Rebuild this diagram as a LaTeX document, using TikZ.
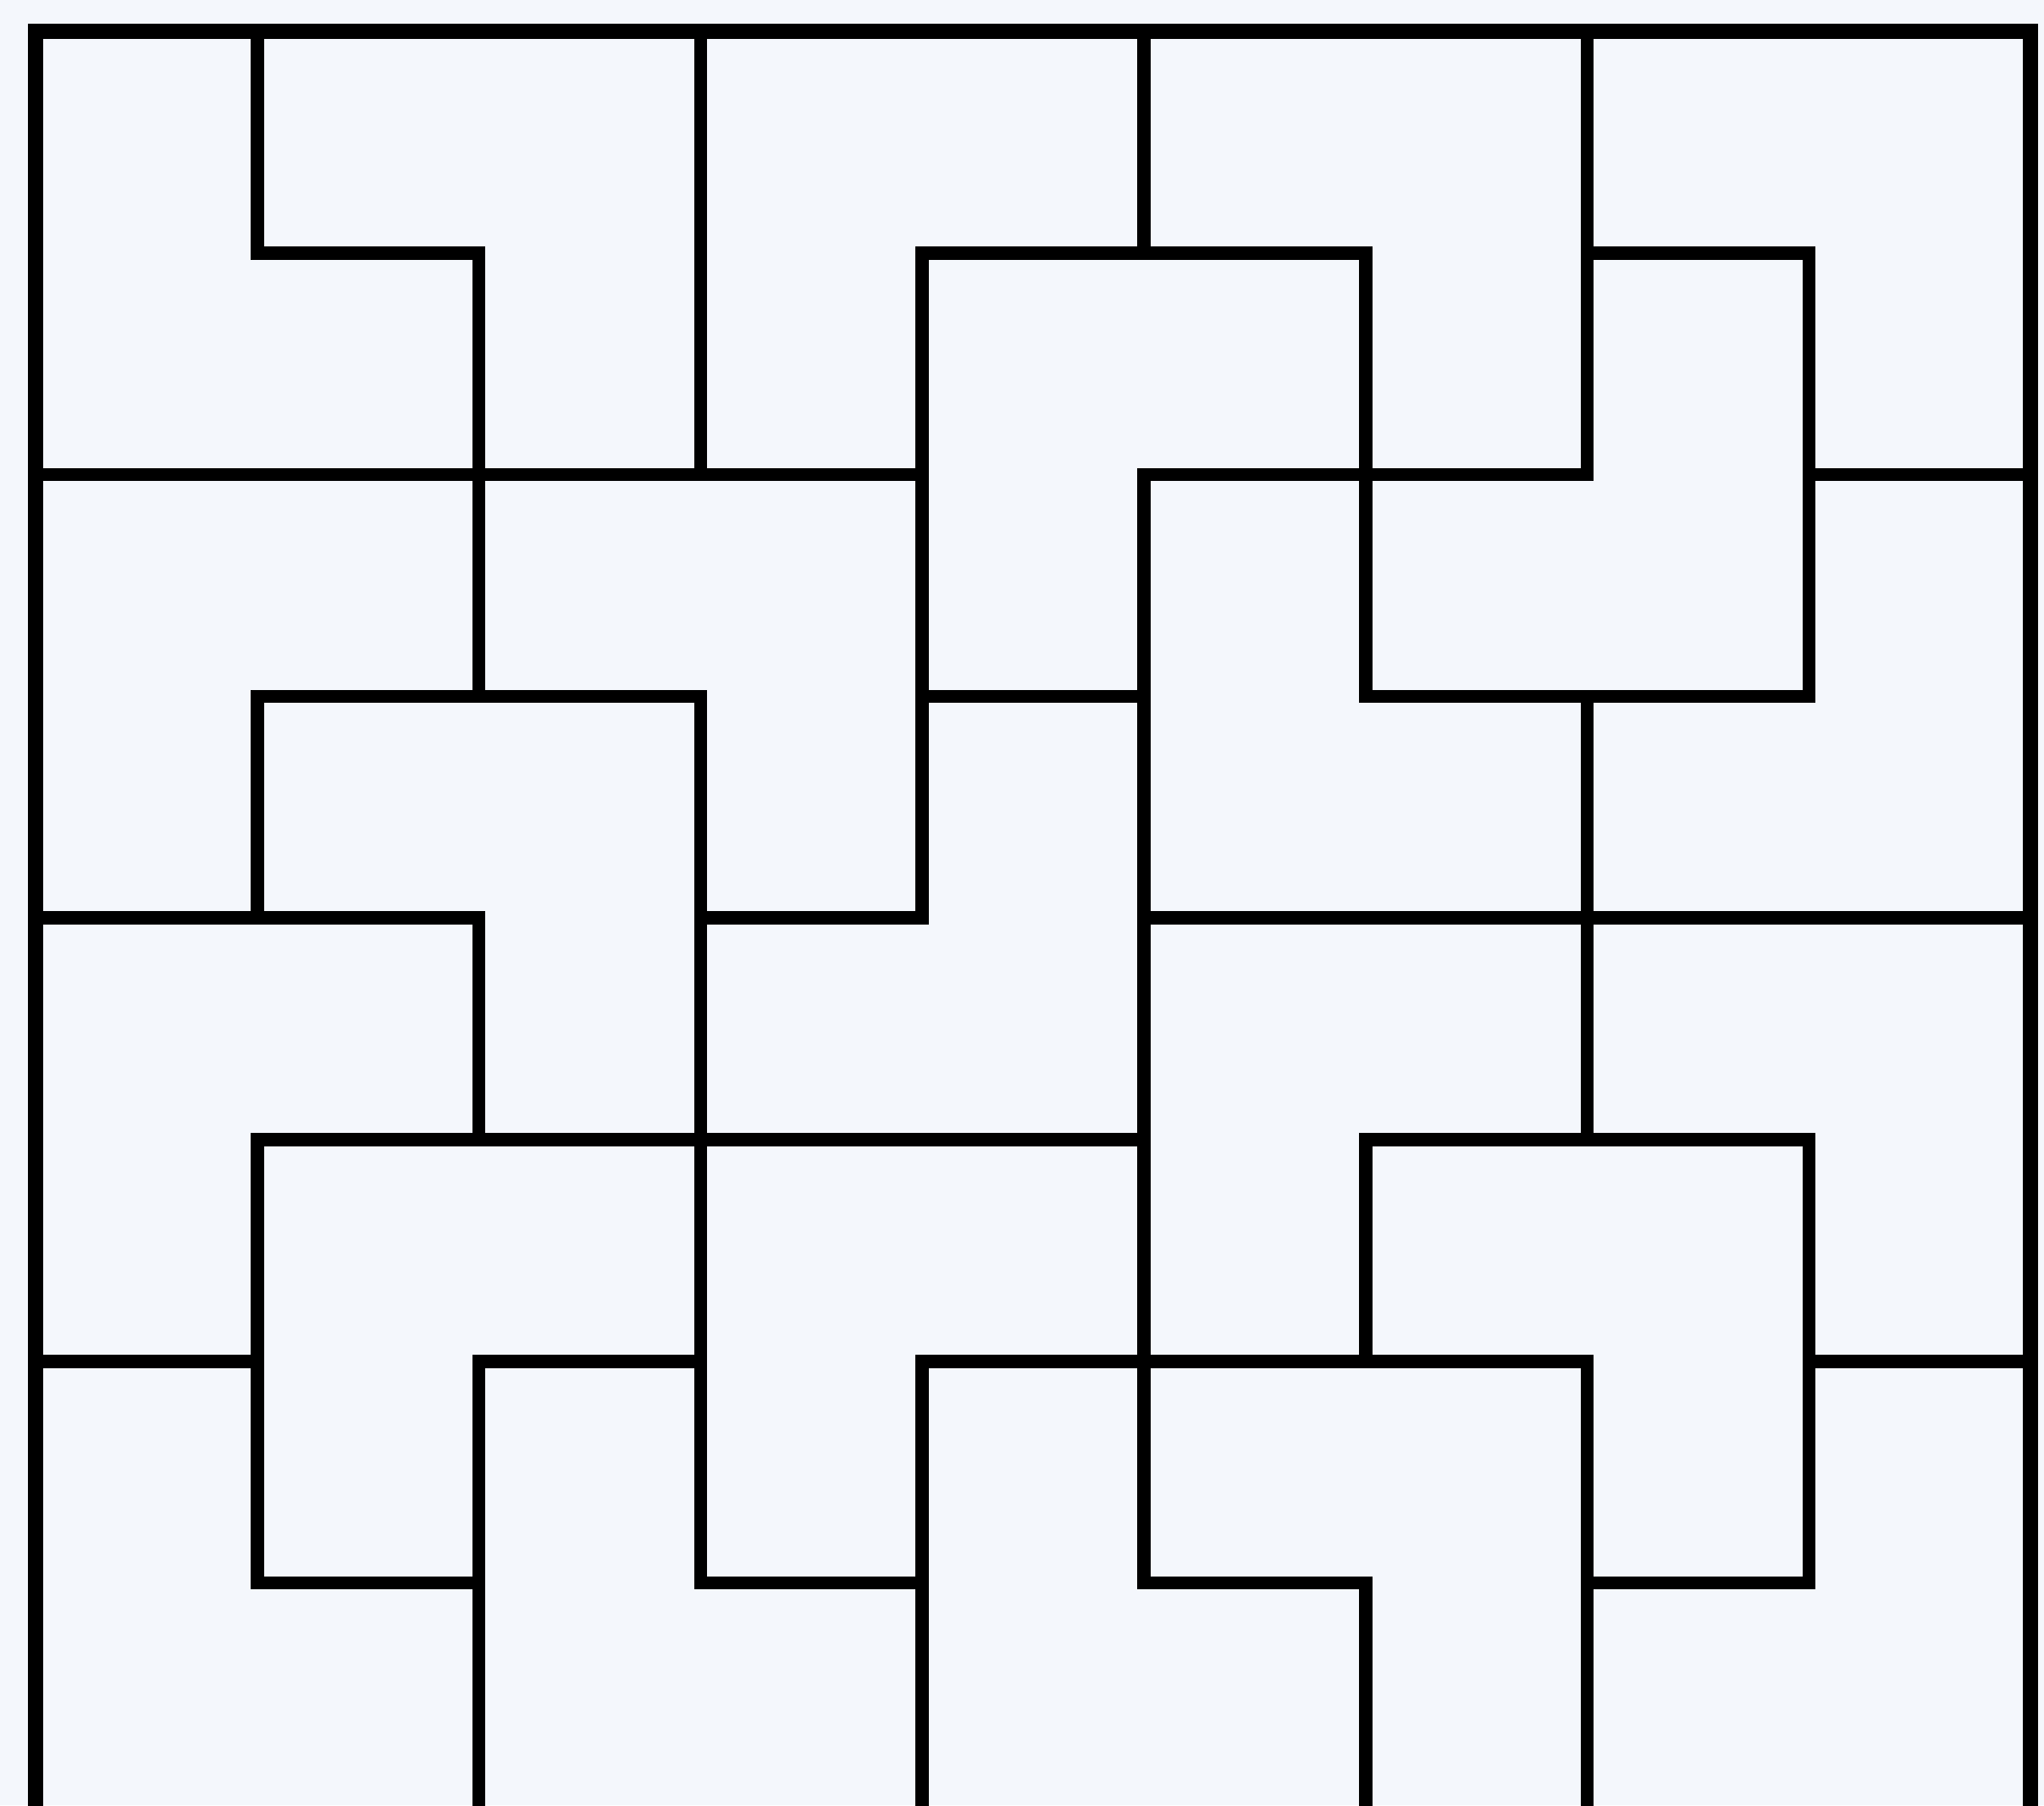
\documentclass[tikz,border=0pt]{standalone}
\usepackage{xcolor}
\usepackage{tikz}

\definecolor{fondo}{RGB}{244,247,252}

\begin{document}
\begin{tikzpicture}[
    x=2.618cm, y=-2.618cm,
    marco/.style={draw=black, line width=0.18cm, line join=miter, line cap=rect},
    pieza/.style={draw=black, line width=0.155cm, line join=miter, line cap=rect}
]
    \fill[fondo] (-0.42cm,0.37cm) rectangle (23.72cm,-20.95cm);
    \useasboundingbox (-0.42cm,0.37cm) rectangle (23.72cm,-20.95cm);

    \draw[marco] (0,8) -- (0,0) -- (9,0) -- (9,8);

    \draw[pieza] (1,0) -- (1,1) -- (2,1) -- (2,3);
    \draw[pieza] (3,0) -- (3,2);
    \draw[pieza] (5,0) -- (5,1);
    \draw[pieza] (4,4) -- (4,1) -- (6,1) -- (6,3) -- (8,3) -- (8,1) -- (7,1);
    \draw[pieza] (7,0) -- (7,2) -- (6,2);
    \draw[pieza] (8,2) -- (9,2);
    \draw[pieza] (0,2) -- (4,2);
    \draw[pieza] (6,2) -- (5,2) -- (5,7) -- (6,7) -- (6,8);
    \draw[pieza] (4,3) -- (5,3);
    \draw[pieza] (1,4) -- (1,3) -- (3,3) -- (3,7) -- (4,7);
    \draw[pieza] (3,4) -- (4,4);
    \draw[pieza] (0,4) -- (2,4) -- (2,5);
    \draw[pieza] (5,4) -- (9,4);
    \draw[pieza] (7,3) -- (7,5);
    \draw[pieza] (2,8) -- (2,6) -- (3,6);
    \draw[pieza] (0,6) -- (1,6);
    \draw[pieza] (2,7) -- (1,7) -- (1,5) -- (5,5);
    \draw[pieza] (6,6) -- (6,5) -- (8,5) -- (8,7) -- (7,7);
    \draw[pieza] (4,8) -- (4,6) -- (7,6) -- (7,8);
    \draw[pieza] (8,6) -- (9,6);
\end{tikzpicture}
\end{document}
